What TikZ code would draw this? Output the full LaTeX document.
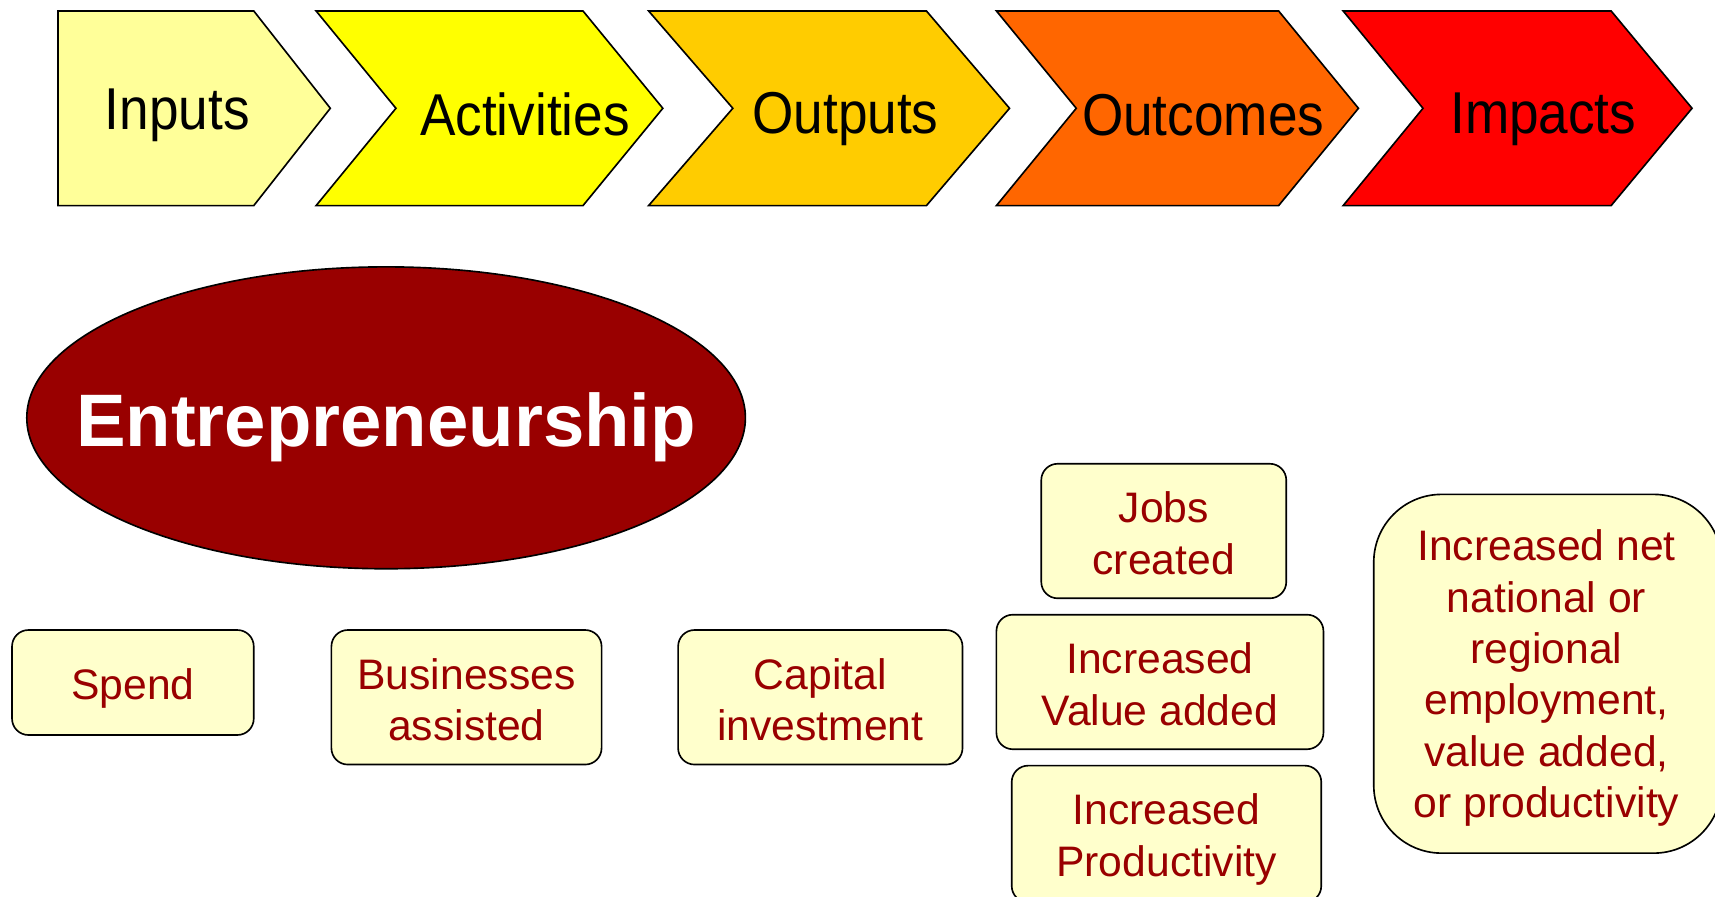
\documentclass[tikz,border=0pt]{standalone}
\usepackage{fontspec}
\setmainfont{Liberation Sans}
\newfontfamily\narrowfont[FakeStretch=0.9]{Liberation Sans}
\definecolor{cInputs}{HTML}{FFFF99}
\definecolor{cActiv}{HTML}{FFFF00}
\definecolor{cOutputs}{HTML}{FFCC00}
\definecolor{cOutcomes}{HTML}{FF6600}
\definecolor{cImpacts}{HTML}{FF0000}
\definecolor{darkred}{HTML}{990000}
\definecolor{boxfill}{HTML}{FFFFCC}
\begin{document}
\begin{tikzpicture}[x=1pt,y=-1pt,
  chev/.style={draw=black,line width=1.5pt,line join=miter},
  chevtext/.style={font=\narrowfont\fontsize{54}{60}\selectfont,text=black,inner sep=0pt},
  rbox/.style={draw=black,line width=1.5pt,fill=boxfill,rounded corners=15pt,inner sep=0pt},
  boxtxt/.style={text=darkred,align=center,font=\fontsize{39}{47}\selectfont,inner sep=0pt}]
\useasboundingbox (0,0) rectangle (1568,820);
\clip (0,0) rectangle (1568,820);
% chevrons
\draw[chev,fill=cInputs] (53,10) -- (232,10) -- (302,99) -- (232,188) -- (53,188) -- cycle;
\draw[chev,fill=cActiv] (289,10) -- (533,10) -- (606,99) -- (533,188) -- (289,188) -- (362,99) -- cycle;
\draw[chev,fill=cOutputs] (593,10) -- (847,10) -- (923,99) -- (847,188) -- (593,188) -- (670,99) -- cycle;
\draw[chev,fill=cOutcomes] (911,10) -- (1169,10) -- (1242,99) -- (1169,188) -- (911,188) -- (984,99) -- cycle;
\draw[chev,fill=cImpacts] (1228,10) -- (1473,10) -- (1547,99) -- (1473,188) -- (1228,188) -- (1301,99) -- cycle;
\node[chevtext] (tin) at (162,105) {Inputs};
\node[chevtext] (tact) at (480,105) {Activities};
\node[chevtext] (tout) at (773,109) {Outputs};
\node[chevtext] (toc) at (1100,105) {Outcomes};
\node[chevtext] (timp) at (1411,109) {Impacts};
% ellipse
\draw[line width=1.5pt,fill=darkred] (353,382) ellipse [x radius=328.5,y radius=138];
\node[text=white,font=\bfseries\fontsize{68}{78}\selectfont,inner sep=0pt] (ent) at (353,391) {Entrepreneurship};
% boxes
\node[rbox,minimum width=221pt,minimum height=96pt] (spend) at (121.5,624) {};
\node[rbox,minimum width=247pt,minimum height=123pt] (bus) at (426.5,637.5) {};
\node[rbox,minimum width=260pt,minimum height=123pt] (cap) at (750,637.5) {};
\node[rbox,minimum width=224pt,minimum height=123pt] (jobs) at (1064,485.5) {};
\node[rbox,minimum width=299pt,minimum height=123pt] (val) at (1060.5,623.5) {};
\node[rbox,minimum width=283pt,minimum height=125pt] (prod) at (1066.5,762.5) {};
\node[rbox,rounded corners=62pt,minimum width=318pt,minimum height=328pt] (net) at (1415,616) {};
\node[boxtxt] (spendt) at ([yshift=-5pt]spend.center) {Spend};
\node[boxtxt] (bust) at ([yshift=-2pt]bus.center) {Businesses\\assisted};
\node[boxtxt] (capt) at ([yshift=-2pt]cap.center) {Capital\\investment};
\node[boxtxt] (jobst) at ([yshift=-2pt]jobs.center) {Jobs\\created};
\node[boxtxt] (valt) at ([yshift=-2pt]val.center) {Increased\\Value added};
\node[boxtxt] (prodt) at ([yshift=-5pt]prod.center) {Increased\\Productivity};
\node[boxtxt] (nett) at ([xshift=-1pt,yshift=-4pt]net.center) {Increased net\\national or\\regional\\employment,\\value added,\\or productivity};
\end{tikzpicture}
\end{document}
